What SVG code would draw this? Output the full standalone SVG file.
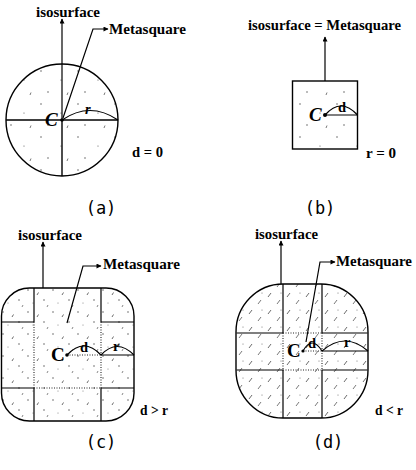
<svg xmlns="http://www.w3.org/2000/svg" width="416" height="470" viewBox="0 0 416 470">
<style>
.ln{fill:none;stroke:#000;stroke-width:1.4}
.sh{stroke:#000;stroke-width:1.4}
.thin{fill:none;stroke:#000;stroke-width:1.2}
.dot{fill:none;stroke:#222;stroke-width:1.1;stroke-dasharray:1 1.5}
.lbl{font-family:"Liberation Serif","Times New Roman",serif;font-weight:bold;font-size:14.5px;fill:#000}
.sym{font-family:"Liberation Serif","Times New Roman",serif;font-weight:bold;font-size:19px;fill:#000}
.cap{font-family:"DejaVu Sans Mono","Liberation Mono",monospace;font-size:17px;fill:#000;text-anchor:middle}
</style>
<defs>
<marker id="ah" viewBox="0 0 10 10" refX="9" refY="5" markerWidth="6" markerHeight="5" orient="auto" markerUnits="userSpaceOnUse">
<path d="M0,0 L10,5 L0,10 z" fill="#000"/>
</marker>
<pattern id="sparse" width="37" height="33" patternUnits="userSpaceOnUse">
<circle cx="4" cy="5" r="0.7" fill="#444"/>
<circle cx="24" cy="14" r="0.6" fill="#555"/>
<circle cx="11" cy="26" r="0.7" fill="#444"/>
<path d="M30,29 l1,-2.5" stroke="#555" stroke-width="0.8"/>
</pattern>
<pattern id="speck" width="25" height="22" patternUnits="userSpaceOnUse">
<circle cx="3" cy="4" r="0.7" fill="#444"/>
<circle cx="19" cy="14" r="0.7" fill="#444"/>
<circle cx="8" cy="17" r="0.5" fill="#666"/>
<path d="M12,9 l1.5,-2.5" stroke="#444" stroke-width="0.8"/>
<path d="M22,21 l1,-2" stroke="#555" stroke-width="0.7"/>
</pattern>
<pattern id="hatch" width="19" height="17" patternUnits="userSpaceOnUse">
<path d="M2,8 l3,-4" stroke="#444" stroke-width="0.8"/>
<path d="M11,15 l3,-4" stroke="#555" stroke-width="0.8"/>
<circle cx="15" cy="4" r="0.5" fill="#555"/>
</pattern>
</defs>

<g id="node-a">
<circle cx="62" cy="120" r="56" class="sh" style="fill:url(#sparse)"/>
<line x1="6" y1="120" x2="118" y2="120" class="ln"/>
<line x1="62" y1="120" x2="62" y2="176" class="ln"/>
<path d="M62,120 Q90,101 118,120" class="thin"/>
<circle cx="62" cy="120" r="1.8" fill="#000"/>
<text x="45" y="126" class="sym" font-style="italic">C</text>
<text x="85" y="114" class="lbl" font-style="italic">r</text>
<text x="132" y="157" class="lbl" textLength="31" lengthAdjust="spacingAndGlyphs">d = 0</text>
<text x="36" y="17" class="lbl" textLength="64" lengthAdjust="spacingAndGlyphs">isosurface</text>
<text x="109" y="34" class="lbl" textLength="77" lengthAdjust="spacingAndGlyphs">Metasquare</text>
</g>

<g id="node-b">
<rect x="292.5" y="81" width="65" height="68" class="sh" style="fill:url(#sparse)"/>
<line x1="325" y1="115" x2="357.5" y2="115" class="thin"/>
<path d="M325,115 Q341,97 357.5,115" class="thin"/>
<circle cx="325" cy="115" r="2" fill="#000"/>
<text x="309" y="121" class="sym" font-style="italic">C</text>
<text x="338" y="112" class="lbl">d</text>
<text x="248" y="30" class="lbl" textLength="153" lengthAdjust="spacingAndGlyphs">isosurface = Metasquare</text>
<text x="366" y="158" class="lbl" textLength="30" lengthAdjust="spacingAndGlyphs">r = 0</text>
</g>

<g id="node-c">
<rect x="1.5" y="288" width="132.5" height="133" rx="28" ry="28" class="sh" style="fill:url(#speck)"/>
<line x1="34" y1="288" x2="34" y2="322" class="thin"/>
<line x1="34" y1="388" x2="34" y2="421" class="thin"/>
<line x1="101" y1="288" x2="101" y2="322" class="thin"/>
<line x1="101" y1="388" x2="101" y2="421" class="thin"/>
<line x1="1.5" y1="322" x2="34" y2="322" class="thin"/>
<line x1="101" y1="322" x2="134" y2="322" class="thin"/>
<line x1="1.5" y1="388" x2="34" y2="388" class="thin"/>
<line x1="101" y1="388" x2="134" y2="388" class="thin"/>
<line x1="34" y1="322" x2="34" y2="388" class="dot"/>
<line x1="101" y1="322" x2="101" y2="388" class="dot"/>
<line x1="34" y1="388" x2="101" y2="388" class="dot"/>
<line x1="67" y1="355" x2="101" y2="355" class="dot"/>
<line x1="101" y1="355" x2="134" y2="355" class="thin"/>
<path d="M67,355 Q84,337 101,355" class="thin"/>
<path d="M101,355 Q117,338 134,355" class="thin"/>
<circle cx="67" cy="355" r="1.8" fill="#000"/>
<text x="51" y="361" class="sym">C</text>
<text x="80" y="352" class="lbl">d</text>
<text x="113" y="351" class="lbl">r</text>
<text x="140" y="415" class="lbl" textLength="28" lengthAdjust="spacingAndGlyphs">d &gt; r</text>
<text x="18" y="240" class="lbl" textLength="64" lengthAdjust="spacingAndGlyphs">isosurface</text>
<text x="103" y="269" class="lbl" textLength="77" lengthAdjust="spacingAndGlyphs">Metasquare</text>
</g>

<g id="node-d">
<rect x="236" y="284" width="132" height="134" rx="47" ry="48" class="sh" style="fill:url(#hatch)"/>
<line x1="283" y1="284" x2="283" y2="333" class="thin"/>
<line x1="283" y1="370" x2="283" y2="418" class="thin"/>
<line x1="322" y1="284" x2="322" y2="333" class="thin"/>
<line x1="322" y1="370" x2="322" y2="418" class="thin"/>
<line x1="236.5" y1="333" x2="283" y2="333" class="thin"/>
<line x1="322" y1="333" x2="367.5" y2="333" class="thin"/>
<line x1="236.5" y1="370" x2="283" y2="370" class="thin"/>
<line x1="322" y1="370" x2="367.5" y2="370" class="thin"/>
<line x1="283" y1="333" x2="283" y2="370" class="dot"/>
<line x1="322" y1="333" x2="322" y2="370" class="dot"/>
<line x1="283" y1="333" x2="322" y2="333" class="dot"/>
<line x1="283" y1="370" x2="322" y2="370" class="dot"/>
<line x1="303" y1="351" x2="322" y2="351" class="dot"/>
<line x1="322" y1="351" x2="368" y2="351" class="thin"/>
<path d="M303,351 Q312,335 322,351" class="thin"/>
<path d="M322,351 Q345,331 368,351" class="thin"/>
<circle cx="303" cy="351" r="1.6" fill="#000"/>
<text x="287" y="357" class="sym">C</text>
<text x="308" y="348" class="lbl">d</text>
<text x="344" y="347" class="lbl">r</text>
<text x="375" y="415" class="lbl" textLength="28" lengthAdjust="spacingAndGlyphs">d &lt; r</text>
<text x="255" y="239" class="lbl" textLength="63" lengthAdjust="spacingAndGlyphs">isosurface</text>
<text x="336" y="266" class="lbl" textLength="76" lengthAdjust="spacingAndGlyphs">Metasquare</text>
</g>

<g id="connectors">
<line x1="62" y1="120" x2="62" y2="19" class="thin" marker-end="url(#ah)"/>
<polyline points="63,118 93,29 108,29" class="thin" marker-end="url(#ah)"/>
<line x1="325" y1="81" x2="325" y2="37" class="thin" marker-end="url(#ah)"/>
<line x1="43" y1="288" x2="43" y2="242" class="thin" marker-end="url(#ah)"/>
<polyline points="67,323 83,266 101,266" class="thin" marker-end="url(#ah)"/>
<line x1="281" y1="284" x2="281" y2="241" class="thin" marker-end="url(#ah)"/>
<polyline points="306,342 320,262 335,262" class="thin" marker-end="url(#ah)"/>
</g>

<g id="captions">
<text x="101" y="214" class="cap">(a)</text>
<text x="320" y="214" class="cap">(b)</text>
<text x="101" y="448" class="cap">(c)</text>
<text x="328" y="448" class="cap">(d)</text>
</g>
</svg>
